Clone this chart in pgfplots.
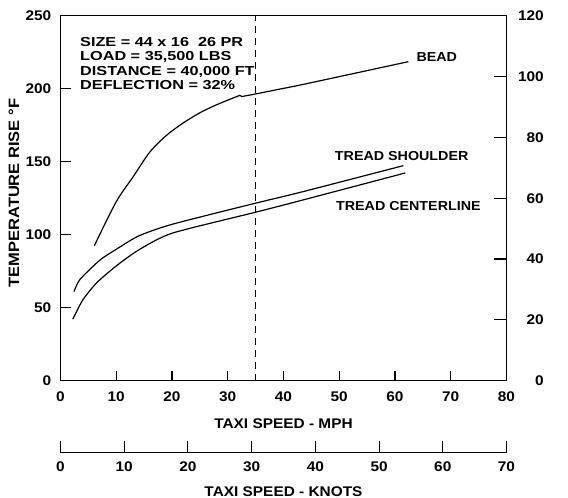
\documentclass[border=0pt]{standalone}
\usepackage{fontspec}
\setmainfont{Liberation Sans}[FakeStretch=1.1]
\newfontfamily\boxfont{Liberation Sans}[FakeStretch=1.25]
\usepackage{pgfplots}
\pgfplotsset{compat=1.18}
\begin{document}
\begin{tikzpicture}[font=\fontsize{14}{14.7}\selectfont\bfseries]
\path[use as bounding box] (-60.5pt,-117.3pt) rectangle (507.5pt,380.7pt);
\pgfplotsset{
  every axis/.append style={
    scale only axis, width=446pt, height=365pt,
    /pgf/number format/assume math mode=true,
    tick style={line width=1.1pt, black},
    axis line style={line width=1.3pt},
    ticklabel style={font=\fontsize{14}{14.7}\selectfont\bfseries, inner sep=0pt},
    label style={font=\fontsize{14}{14.7}\selectfont\bfseries},
    tick align=inside,
  }
}
\begin{axis}[
  at={(0,0)}, anchor=south west,
  xmin=0, xmax=80, ymin=0, ymax=250,
  xtick={0,10,...,80}, ytick={0,50,...,250},
  xtick pos=bottom, ytick pos=left,
  major tick length=10pt,
  xticklabel style={anchor=center, yshift=-16pt},
  yticklabel style={anchor=east, xshift=-9pt},
  xlabel={TAXI SPEED - MPH},
  xlabel style={at={(axis description cs:0.5,-0.1167)}, anchor=center},
  ylabel={TEMPERATURE RISE °F},
  ylabel style={at={(axis description cs:-0.1043,0.514)}, anchor=center, font=\fontsize{15}{16}\selectfont\bfseries},
]
\addplot[black, line width=1.2pt, smooth, tension=0.4] coordinates {
 (2.42,61.0) (3.5,69.4) (7.1,82.7) (10,90.0) (14,99.1) (20,107.1) (35,121.6) (43,129.0) (61.5,147.3)};
\addplot[black, line width=1.2pt, smooth, tension=0.4] coordinates {
 (2.2,42.1) (4,55.3) (6.5,67.1) (10,78.6) (14,89.5) (20,101.0) (35,115.4) (43,123.3) (61.85,142.3)};
\addplot[black, line width=1.2pt, smooth, tension=0.5] coordinates {
 (6.07,92.5) (10,122.6) (13,139.5) (16,156.5) (19,168) (22,176.5) (25,183.5) (28,189) (32.2,195.5)};
\addplot[black, line width=1.2pt] coordinates {
 (32.2,195.5) (32.5,194.6) (35,196.4) (43,202.5) (62.4,218.5)};
\addplot[black, line width=1.1pt, dash pattern=on 7pt off 5pt] coordinates {(35,0) (35,250)};
\node[anchor=center, font=\fontsize{13}{14}\selectfont\bfseries] at (axis cs:67.5,221.9) {BEAD};
\node[anchor=center, font=\fontsize{13}{14}\selectfont\bfseries] at (axis cs:61.2,153.9) {TREAD SHOULDER};
\node[anchor=center, font=\fontsize{13}{14}\selectfont\bfseries] at (axis cs:62.4,119.7) {TREAD CENTERLINE};
\node[anchor=north west, align=left, inner sep=0pt, font=\boxfont\fontsize{13}{14.5}\selectfont\bfseries] at (axis cs:3.5,235.4) {SIZE = 44 x 16\ \ 26 PR\\LOAD = 35,500 LBS\\DISTANCE = 40,000 FT\\DEFLECTION = 32\%};
\end{axis}
\begin{axis}[
  at={(0,0)}, anchor=south west,
  xmin=0, xmax=80, ymin=0, ymax=120,
  axis x line=none, axis y line*=right,
  ytick={0,20,...,120},
  major tick length=13pt,
  yticklabel style={anchor=east, xshift=37.5pt},
]
\node[anchor=center] at (axis description cs:1.118,0.6) {°C};
\end{axis}
\begin{axis}[
  at={(0,-72pt)}, anchor=south west,
  height=1pt,
  xmin=0, xmax=70, ymin=0, ymax=1,
  axis x line*=bottom, axis y line=none,
  xtick={0,10,...,70},
  major tick length=12pt,
  xticklabel style={anchor=center, yshift=-14pt},
  xlabel={TAXI SPEED - KNOTS},
  xlabel style={at={(axis description cs:0.5,0)}, yshift=-39pt, anchor=center},
]
\end{axis}
\end{tikzpicture}
\end{document}
